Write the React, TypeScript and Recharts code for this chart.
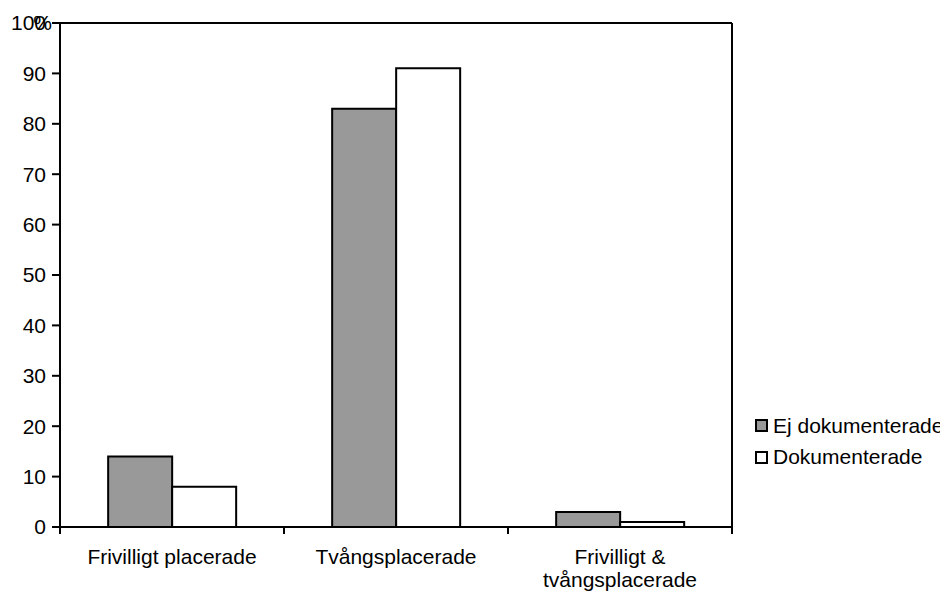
import React from "react";
import {
  BarChart,
  Bar,
  XAxis,
  YAxis,
  Legend,
  ReferenceLine,
} from "recharts";

const categories = ["Frivilligt placerade", "Tvångsplacerade", "Frivilligt &\ntvångsplacerade"];
const ejDokumenterade = [14, 83, 3];
const dokumenterade = [8, 91, 1];
const yTicks = [0, 10, 20, 30, 40, 50, 60, 70, 80, 90, 100];

const seriesNames = ["Ej dokumenterade", "Dokumenterade"];
const seriesFills = ["#999999", "#ffffff"];

const font = "'Liberation Sans', Arial, sans-serif";

const chartData = categories.map((name, i) => ({
  name,
  ej: ejDokumenterade[i],
  dok: dokumenterade[i],
}));

function CategoryTick(props: any) {
  const { x, y, width, visibleTicksCount, payload, index } = props;
  const half = width / (2 * visibleTicksCount);
  const lines = String(payload.value).split("\n");
  return (
    <g>
      <line x1={x - half} x2={x - half} y1={y} y2={y + 7} stroke="#000" strokeWidth={2} />
      {index === visibleTicksCount - 1 && (
        <line x1={x + half} x2={x + half} y1={y} y2={y + 7} stroke="#000" strokeWidth={2} />
      )}
      <text x={x} y={y + 30} textAnchor="middle" fontSize={21} fontFamily={font} fill="#000">
        {lines.map((l, i) => (
          <tspan key={i} x={x} dy={i === 0 ? "0.355em" : 23}>
            {l}
          </tspan>
        ))}
      </text>
    </g>
  );
}

function LegendBox() {
  return (
    <div style={{ fontFamily: font, fontSize: 21, color: "#000", textAlign: "left" }}>
      {seriesNames.map((n, i) => (
        <div key={n} style={{ display: "flex", alignItems: "center", height: 31.5, whiteSpace: "nowrap" }}>
          <span
            style={{
              display: "inline-block",
              width: 9,
              height: 9,
              border: "2px solid #000",
              background: seriesFills[i],
              marginRight: 5,
            }}
          />
          {n}
        </div>
      ))}
    </div>
  );
}

export default function App() {
  return (
    <div style={{ width: 940, height: 587, position: "relative" }}>
      <BarChart
        width={940}
        height={587}
        data={chartData}
        margin={{ top: 15, right: 215, left: 0, bottom: 0 }}
        barCategoryGap="21.5%"
        barGap={0}
      >
        <XAxis
          dataKey="name"
          interval={0}
          height={68}
          tickSize={0}
          tickMargin={0}
          tickLine={false}
          axisLine={{ stroke: "#000", strokeWidth: 2 }}
          tick={<CategoryTick />}
        />
        <YAxis
          width={52}
          domain={[0, 100]}
          ticks={yTicks}
          interval={0}
          tickSize={8}
          tickMargin={6}
          axisLine={{ stroke: "#000", strokeWidth: 2 }}
          tickLine={{ stroke: "#000", strokeWidth: 2 }}
          tick={{ fill: "#000", fontSize: 21, fontFamily: font }}
          label={{
            content: ({ viewBox }: any) => (
              <text
                x={viewBox.x + viewBox.width - 8}
                y={viewBox.y}
                dy="0.355em"
                textAnchor="end"
                fontSize={21}
                fontFamily={font}
                fill="#000"
              >
                %
              </text>
            ),
          }}
        />
        <YAxis
          yAxisId="border"
          orientation="right"
          width={1}
          domain={[0, 100]}
          tick={false}
          tickLine={false}
          axisLine={{ stroke: "#000", strokeWidth: 2 }}
        />
        <ReferenceLine y={100} stroke="#000" strokeWidth={2} />
        <Legend
          layout="vertical"
          verticalAlign="middle"
          align="center"
          content={<LegendBox />}
          wrapperStyle={{ left: 747, top: 402, width: 200 }}
        />
        <Bar
          dataKey="ej"
          name={seriesNames[0]}
          fill={seriesFills[0]}
          stroke="#000"
          strokeWidth={2}
          isAnimationActive={false}
        />
        <Bar
          dataKey="dok"
          name={seriesNames[1]}
          fill={seriesFills[1]}
          stroke="#000"
          strokeWidth={2}
          isAnimationActive={false}
        />
      </BarChart>
    </div>
  );
}
